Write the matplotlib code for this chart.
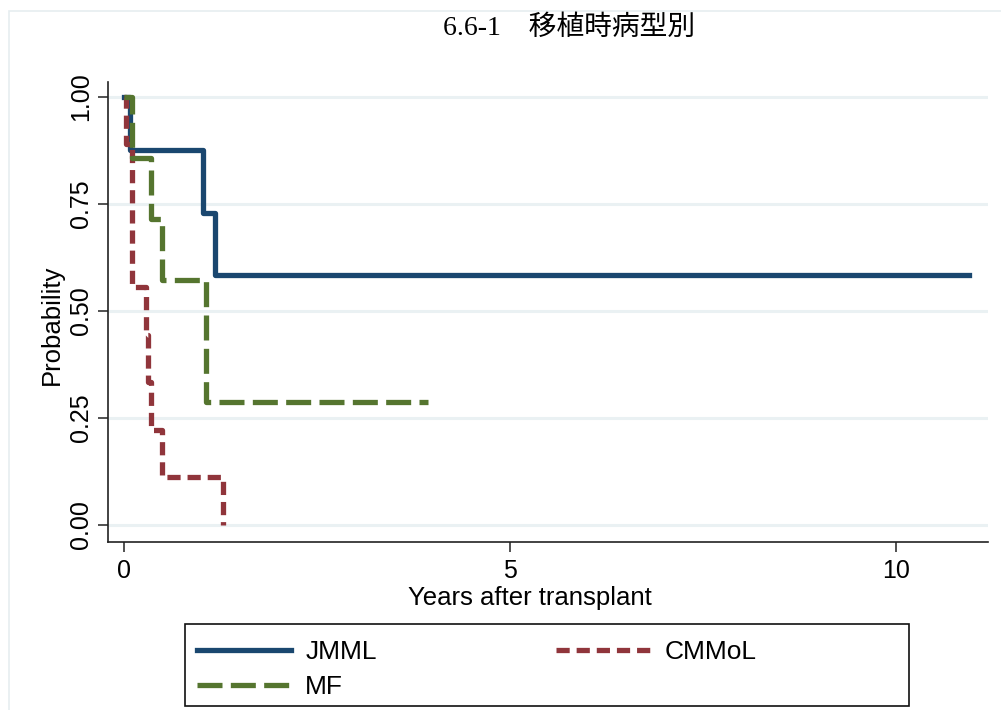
import matplotlib
matplotlib.use("Agg")
import matplotlib.pyplot as plt
from matplotlib.patches import Rectangle
from matplotlib.lines import Line2D

# Kaplan-Meier step values (years, survival)
jmml_t = [0, 0.08, 1.02, 1.18, 10.95]
jmml_s = [1.0, 0.875, 0.729, 0.583, 0.583]

cmmol_t = [0, 0.02, 0.10, 0.28, 0.31, 0.34, 0.485, 1.28]
cmmol_s = [1.0, 0.889, 0.556, 0.444, 0.333, 0.222, 0.111, 0.0]

mf_t = [0, 0.10, 0.35, 0.49, 1.06, 3.94]
mf_s = [1.0, 0.857, 0.714, 0.571, 0.286, 0.286]

yticks = [0, 0.25, 0.5, 0.75, 1.0]
ytick_labels = ["0.00", "0.25", "0.50", "0.75", "1.00"]
xticks = [0, 5, 10]

title = "6.6-1\u3000移植時病型別"

navy = "#1a476f"
maroon = "#90353b"
green = "#55752f"
grid_col = "#eaf1f3"

plt.rcParams['font.family'] = ['Liberation Sans', 'DejaVu Sans']
plt.rcParams['lines.scale_dashes'] = False

W, H = 1001, 710
fig = plt.figure(figsize=(W / 100, H / 100), dpi=100)

# light outer frame like Stata's graph region
fig.patches.append(Rectangle((9 / W, -0.1), 1.2, 1 - 11 / H + 0.1, transform=fig.transFigure,
                             fill=False, edgecolor="#e6edf0", lw=1.2))

ax = fig.add_axes([108 / W, 1 - 542 / H, 880 / W, 460 / H])
ax.set_xlim(-0.211, 11.196)
ax.set_ylim(-0.0397, 1.034)

for y in yticks:
    ax.axhline(y, color=grid_col, lw=2.2, zorder=0)

lw = 3.8
red_dash = (9.5, 5.0)
green_dash = (18, 6)
ax.step(jmml_t, jmml_s, where='post', color=navy, lw=lw)
ax.step(cmmol_t, cmmol_s, where='post', color=maroon, lw=lw, dashes=red_dash)
ax.step(mf_t, mf_s, where='post', color=green, lw=lw, dashes=green_dash)

ax.spines['top'].set_visible(False)
ax.spines['right'].set_visible(False)
for s in ['left', 'bottom']:
    ax.spines[s].set_linewidth(1.2)
    ax.spines[s].set_color("#222222")

ax.set_yticks(yticks)
ax.set_yticklabels(ytick_labels, rotation=90, va='center', fontsize=18)
ax.set_xticks(xticks)
ax.set_xticklabels([str(x) for x in xticks], fontsize=18)
ax.tick_params(axis='both', length=7.5, width=1.1, color="#222222", direction='out')
ax.tick_params(axis='y', pad=3.5)
ax.tick_params(axis='x', pad=4.5)

fig.text(52 / W, 1 - 325 / H, "Probability", rotation=90, ha='center', va='center', fontsize=18.5)
fig.text(530 / W, 1 - 598 / H, "Years after transplant", ha='center', va='center', fontsize=18.5)
fig.text(569 / W, 1 - 28 / H, title, ha='center', va='center', fontsize=20,
         family=['Liberation Serif', 'Noto Sans CJK JP'])

# legend box
fig.patches.append(Rectangle((185 / W, 1 - 706 / H), 724 / W, 82 / H, transform=fig.transFigure,
                             fill=False, edgecolor="#111111", lw=1.2))
handles = [Line2D([], [], color=navy, lw=lw),
           Line2D([], [], color=green, lw=lw, dashes=green_dash),
           Line2D([], [], color=maroon, lw=lw, dashes=red_dash)]
labels = ["JMML", "MF", "CMMoL"]
fig.legend(handles, labels, loc='upper left', bbox_to_anchor=(197 / W, 1 - 640 / H), ncol=2,
           frameon=False, fontsize=19, handlelength=3.55, handletextpad=0.55,
           columnspacing=6.8, labelspacing=0.42, borderpad=0, borderaxespad=0)

fig.savefig("out.png", dpi=100)
